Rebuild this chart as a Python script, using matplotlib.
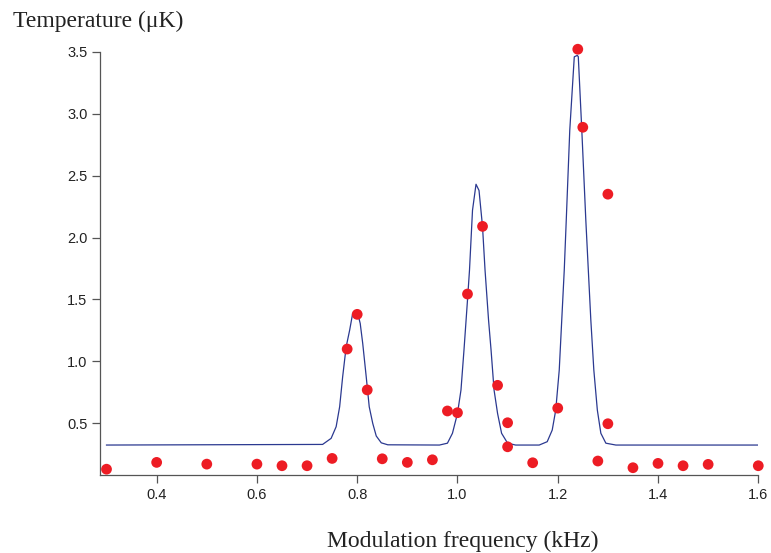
import numpy as np
import matplotlib
matplotlib.use("Agg")
import matplotlib.pyplot as plt

# measured temperature (uK) vs modulation frequency (kHz)
freq = [0.30, 0.40, 0.50, 0.60, 0.65, 0.70, 0.75, 0.78, 0.80, 0.82, 0.85,
        0.90, 0.95, 0.98, 1.00, 1.02, 1.05, 1.08, 1.10, 1.10, 1.15, 1.20,
        1.24, 1.25, 1.28, 1.30, 1.30, 1.35, 1.40, 1.45, 1.50, 1.60]
temp = [0.13, 0.185, 0.171, 0.171, 0.158, 0.158, 0.217, 1.10, 1.38, 0.77, 0.214,
        0.185, 0.206, 0.60, 0.586, 1.544, 2.09, 0.807, 0.505, 0.311, 0.182, 0.623,
        3.52, 2.89, 0.196, 2.35, 0.497, 0.142, 0.177, 0.158, 0.169, 0.158]

# fitted curve
fit_x = [0.300, 0.731, 0.748, 0.758, 0.765, 0.771, 0.778, 0.785, 0.791, 0.796,
         0.801, 0.806, 0.811, 0.818, 0.824, 0.831, 0.838, 0.848, 0.861,
         0.964, 0.980, 0.990, 1.000, 1.007, 1.013, 1.020, 1.024, 1.030, 1.037,
         1.043, 1.050, 1.055, 1.062, 1.067, 1.073, 1.080, 1.088, 1.100, 1.116,
         1.163, 1.179, 1.189, 1.196, 1.203, 1.208, 1.213, 1.217, 1.224, 1.233,
         1.239, 1.241, 1.248, 1.256, 1.261, 1.266, 1.272, 1.279, 1.286, 1.296,
         1.316, 1.600]
fit_y = [0.325, 0.330, 0.379, 0.473, 0.634, 0.876, 1.118, 1.253, 1.388, 1.400,
         1.388, 1.307, 1.146, 0.876, 0.634, 0.500, 0.398, 0.343, 0.327,
         0.325, 0.340, 0.420, 0.580, 0.769, 1.092, 1.495, 1.737, 2.220, 2.430,
         2.380, 2.087, 1.737, 1.334, 1.092, 0.769, 0.580, 0.420, 0.340, 0.325,
         0.325, 0.352, 0.446, 0.607, 0.930, 1.334, 1.737, 2.141, 2.867, 3.459,
         3.470, 3.460, 2.867, 2.141, 1.737, 1.334, 0.930, 0.607, 0.420, 0.340,
         0.325, 0.325]

xticks = [0.4, 0.6, 0.8, 1.0, 1.2, 1.4, 1.6]
yticks = [0.5, 1.0, 1.5, 2.0, 2.5, 3.0, 3.5]


def main():
    fig = plt.figure(figsize=(7.71, 5.53), dpi=100)
    ax = fig.add_axes([0.1297, 0.141, 0.8538, 0.7655])

    ax.plot(fit_x, fit_y, color="#2B3990", lw=0.9, zorder=2)
    ax.scatter(freq, temp, s=60, color="#ED1C24", edgecolors="none",
               zorder=3, clip_on=False)

    ax.set_xlim(0.287, 1.6)
    ax.set_ylim(0.083, 3.5)
    ax.set_xticks(xticks)
    ax.set_yticks(yticks)
    ax.set_xticklabels([f"{v:.1f}" for v in xticks])
    ax.set_yticklabels([f"{v:.1f}" for v in yticks])

    for s in ["top", "right"]:
        ax.spines[s].set_visible(False)
    for s in ["left", "bottom"]:
        ax.spines[s].set_color("#555555")
        ax.spines[s].set_linewidth(0.9)
    ax.tick_params(direction="out", length=6, width=0.9, color="#555555",
                   labelsize=10.5, labelcolor="#222222", pad=3)
    for lab in ax.get_xticklabels() + ax.get_yticklabels():
        lab.set_family("Liberation Sans")

    fig.text(0.0169, 0.9517, "Temperature (μK)", family="Liberation Serif",
             fontsize=17, color="#222222", ha="left", va="baseline")
    fig.text(0.6005, 0.0114, "Modulation frequency (kHz)",
             family="Liberation Serif", fontsize=17, color="#222222",
             ha="center", va="baseline")

    fig.savefig("out.png", dpi=100)


if __name__ == '__main__':
    main()
